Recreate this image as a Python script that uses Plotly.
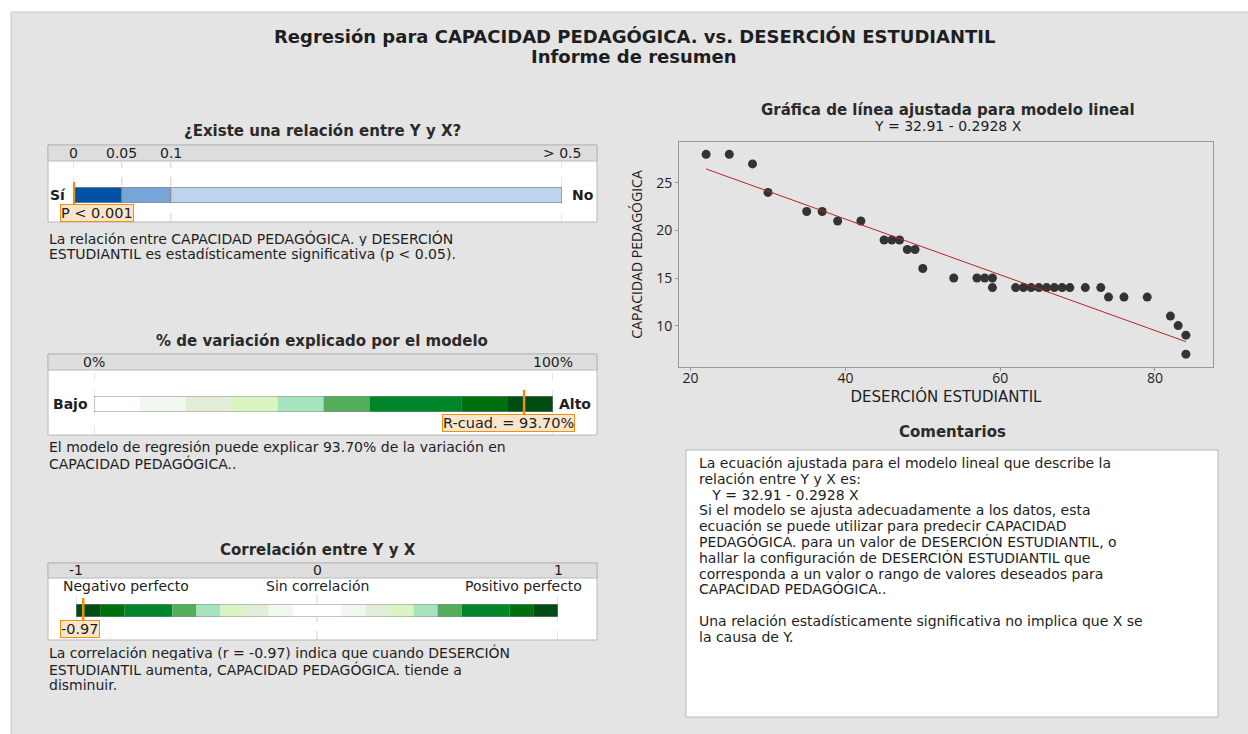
import plotly.graph_objects as go

# ---------------- data ----------------
desercion = [22, 25, 28, 30, 35, 37, 39, 42, 45, 46, 47, 48, 49, 50, 54, 57, 58, 59, 59,
             62, 63, 64, 65, 66, 67, 68, 69, 71, 73, 74, 76, 79, 82, 83, 84, 84]
capacidad = [28, 28, 27, 24, 22, 22, 21, 21, 19, 19, 19, 18, 18, 16, 15, 15, 15, 15, 14,
             14, 14, 14, 14, 14, 14, 14, 14, 14, 14, 13, 13, 13, 11, 10, 9, 7]
intercept = 32.91
slope = -0.2928

# p-value gauge (display units: 0, 0.05, 0.1, >0.5)
p_tick_labels = ["0", "0.05", "0.1", "> 0.5"]
p_tick_pos = [0, 1, 2, 10]
p_seg_start = [0, 1, 2]
p_seg_width = [1, 1, 8]
p_seg_colors = ["#0052a5", "#78a5d9", "#bed3ec"]
p_value_disp = 0.02  # p < 0.001
p_label = "P < 0.001"

# R-squared gauge (%)
r2_seg_start = [0, 10, 20, 30, 40, 50, 60, 80, 90]
r2_seg_width = [10, 10, 10, 10, 10, 10, 20, 10, 10]
r2_seg_colors = ["#ffffff", "#f0f7ee", "#e2eed9", "#daf5c2", "#a7e3bc", "#53ad5d",
                 "#00852a", "#006f0e", "#004c14"]
r2_value = 93.70
r2_tick_labels = ["0%", "100%"]
r2_tick_pos = [0, 100]

# correlation gauge
r_seg_start = [-1, -0.9, -0.8, -0.6, -0.5, -0.4, -0.3, -0.2, -0.1,
               0.1, 0.2, 0.3, 0.4, 0.5, 0.6, 0.8, 0.9]
r_seg_width = [0.1, 0.1, 0.2, 0.1, 0.1, 0.1, 0.1, 0.1, 0.2,
               0.1, 0.1, 0.1, 0.1, 0.1, 0.2, 0.1, 0.1]
r_seg_colors = ["#004c14", "#006f0e", "#00852a", "#53ad5d", "#a7e3bc", "#daf5c2",
                "#e2eed9", "#f0f7ee", "#ffffff",
                "#f0f7ee", "#e2eed9", "#daf5c2", "#a7e3bc", "#53ad5d", "#00852a",
                "#006f0e", "#004c14"]
r_value = -0.97
r_tick_labels = ["-1", "0", "1"]
r_tick_pos = [-1, 0, 1]
r_desc_labels = ["Negativo perfecto", "Sin correlación", "Positivo perfecto"]

# ---------------- layout helpers ----------------
W, H = 1248, 734
FONT = "DejaVu Sans"
TXT = "#1e1e1e"
ORANGE = "#f0900f"
BODY = 14


def X(x):
    return x / W


def Y(y):
    return 1 - y / H


fig = go.Figure()

# scatter + fitted line
fig.add_trace(go.Scatter(x=desercion, y=capacidad, mode="markers",
                         marker=dict(color="#333333", size=9), xaxis="x", yaxis="y",
                         showlegend=False, hoverinfo="skip"))
xl = [min(desercion), max(desercion)]
fig.add_trace(go.Scatter(x=xl, y=[intercept + slope * v for v in xl], mode="lines",
                         line=dict(color="#b0262a", width=1), xaxis="x", yaxis="y",
                         showlegend=False, hoverinfo="skip"))

# gauges
fig.add_trace(go.Bar(orientation="h", y=[0] * len(p_seg_width), x=p_seg_width, base=p_seg_start,
                     width=1, marker=dict(color=p_seg_colors, line=dict(color="#8a8a8a", width=1)),
                     xaxis="x2", yaxis="y2", showlegend=False, hoverinfo="skip"))
fig.add_trace(go.Bar(orientation="h", y=[0] * len(r2_seg_width), x=r2_seg_width, base=r2_seg_start,
                     width=1, marker=dict(color=r2_seg_colors, line=dict(width=0)),
                     xaxis="x3", yaxis="y3", showlegend=False, hoverinfo="skip"))
fig.add_trace(go.Bar(orientation="h", y=[0] * len(r_seg_width), x=r_seg_width, base=r_seg_start,
                     width=1, marker=dict(color=r_seg_colors, line=dict(width=0)),
                     xaxis="x4", yaxis="y4", showlegend=False, hoverinfo="skip"))

hidden = dict(visible=False, fixedrange=True)
fig.update_layout(
    width=W, height=H, autosize=False,
    margin=dict(l=0, r=0, t=0, b=0),
    paper_bgcolor="white", plot_bgcolor="white",
    barmode="overlay",
    font=dict(family=FONT, color=TXT, size=13),
    xaxis=dict(domain=[X(679), X(1213)], range=[18.5, 87.5], tickvals=[20, 40, 60, 80],
               showgrid=False, zeroline=False, showline=True, linecolor="#9a9a9a", mirror=True,
               ticks="outside", ticklen=3, tickcolor="#9a9a9a", ticklabelstandoff=-5,
               tickfont=dict(family="Open Sans", size=14, color=TXT),
               title=dict(text="DESERCIÓN ESTUDIANTIL", font=dict(family=FONT, size=15, color=TXT), standoff=0)),
    yaxis=dict(domain=[Y(367), Y(142)], range=[5.65, 29.3], tickvals=[10, 15, 20, 25],
               showgrid=False, zeroline=False, showline=True, linecolor="#9a9a9a", mirror=True,
               ticks="outside", ticklen=3, tickcolor="#9a9a9a",
               tickfont=dict(family="Open Sans", size=14, color=TXT),
               title=dict(text="CAPACIDAD PEDAGÓGICA", font=dict(family="Open Sans", size=14, color=TXT), standoff=10)),
    xaxis2=dict(domain=[X(73), X(562)], range=[0, 10], anchor="y2", **hidden),
    yaxis2=dict(domain=[Y(203), Y(187)], range=[-0.5, 0.5], anchor="x2", **hidden),
    xaxis3=dict(domain=[X(94), X(553)], range=[0, 100], anchor="y3", **hidden),
    yaxis3=dict(domain=[Y(412), Y(396)], range=[-0.5, 0.5], anchor="x3", **hidden),
    xaxis4=dict(domain=[X(76), X(558)], range=[-1, 1], anchor="y4", **hidden),
    yaxis4=dict(domain=[Y(617), Y(604)], range=[-0.5, 0.5], anchor="x4", **hidden),
)

shapes = []
# page background
shapes.append(dict(type="rect", xref="paper", yref="paper", x0=X(11), x1=X(1250), y0=Y(736), y1=Y(12),
                   fillcolor="#e4e4e4", line=dict(color="#c6c6c6", width=1), layer="below"))


def panel(top, band_bottom, bottom):
    shapes.append(dict(type="rect", xref="paper", yref="paper", x0=X(48), x1=X(597), y0=Y(bottom), y1=Y(top),
                       fillcolor="white", line=dict(color="#b8b8b8", width=1), layer="below"))
    shapes.append(dict(type="rect", xref="paper", yref="paper", x0=X(48), x1=X(597), y0=Y(band_bottom), y1=Y(top),
                       fillcolor="#dddddd", line=dict(color="#b8b8b8", width=1), layer="below"))


panel(145, 161, 222)
panel(354, 370, 435)
panel(563, 578, 640)

# comments box
shapes.append(dict(type="rect", xref="paper", yref="paper", x0=X(686), x1=X(1218), y0=Y(717), y1=Y(450),
                   fillcolor="white", line=dict(color="#b8b8b8", width=1), layer="below"))

# dashed guide lines
for v in p_tick_pos:
    shapes.append(dict(type="line", xref="x2", yref="paper", x0=v, x1=v, y0=Y(222), y1=Y(162),
                       line=dict(color="#cfcfcf", width=1, dash="dash"), layer="below"))
for v in r2_tick_pos:
    shapes.append(dict(type="line", xref="x3", yref="paper", x0=v, x1=v, y0=Y(435), y1=Y(371),
                       line=dict(color="#cfcfcf", width=1, dash="dash"), layer="below"))
for v in r_tick_pos:
    shapes.append(dict(type="line", xref="x4", yref="paper", x0=v, x1=v, y0=Y(640), y1=Y(595),
                       line=dict(color="#cfcfcf", width=1, dash="dash"), layer="below"))

# bar outlines
shapes.append(dict(type="rect", xref="x2", yref="y2", x0=0, x1=10, y0=-0.5, y1=0.5,
                   line=dict(color="#8a8a8a", width=1)))
shapes.append(dict(type="rect", xref="x3", yref="y3", x0=0, x1=100, y0=-0.5, y1=0.5,
                   line=dict(color="#8a8a8a", width=1)))
shapes.append(dict(type="rect", xref="x4", yref="y4", x0=-1, x1=1, y0=-0.5, y1=0.5,
                   line=dict(color="#8a8a8a", width=1)))

# value markers
shapes.append(dict(type="line", xref="x2", yref="paper", x0=p_value_disp, x1=p_value_disp, y0=Y(207), y1=Y(182),
                   line=dict(color=ORANGE, width=2.5)))
shapes.append(dict(type="line", xref="x3", yref="paper", x0=r2_value, x1=r2_value, y0=Y(416), y1=Y(390),
                   line=dict(color=ORANGE, width=2.5)))
shapes.append(dict(type="line", xref="x4", yref="paper", x0=r_value, x1=r_value, y0=Y(622), y1=Y(598),
                   line=dict(color=ORANGE, width=2.5)))

fig.update_layout(shapes=shapes)

ann = []


def text(x, y, s, size=BODY, anchor="left", bold=False, weight=None, color=TXT, family=FONT, **kw):
    d = dict(xref="paper", yref="paper", x=X(x), y=Y(y), text=s, showarrow=False,
             xanchor=anchor, yanchor="middle",
             font=dict(family=family, size=size, color=color,
                       weight=(weight if weight else (700 if bold else 400))))
    d.update(kw)
    ann.append(d)


# titles
text(634, 36, "Regresión para CAPACIDAD PEDAGÓGICA. vs. DESERCIÓN ESTUDIANTIL", size=18, anchor="center", bold=True)
text(634, 56, "Informe de resumen", size=18, anchor="center", bold=True)

SEC = "#2a2a2a"
text(322, 131, "¿Existe una relación entre Y y X?", size=15, anchor="center", bold=True, color=SEC)
text(322, 341, "% de variación explicado por el modelo", size=15, anchor="center", bold=True, color=SEC)
text(318, 550, "Correlación entre Y y X", size=15, anchor="center", bold=True, color=SEC)
text(948, 110, "Gráfica de línea ajustada para modelo lineal", size=15, anchor="center", bold=True, color=SEC)
text(948, 126, "Y = 32.91 - 0.2928 X", size=14, anchor="center")
text(952, 432, "Comentarios", size=15, anchor="center", bold=True, color=SEC)

# gauge tick labels (positioned through gauge axes)
TICKF = dict(family=FONT, size=14, color=TXT)
for v, lab in zip(p_tick_pos, p_tick_labels):
    ann.append(dict(xref="x2", yref="paper", x=v, y=Y(153), text=lab, showarrow=False,
                    xanchor="center", yanchor="middle", font=TICKF, height=16))
for v, lab in zip(r2_tick_pos, r2_tick_labels):
    ann.append(dict(xref="x3", yref="paper", x=v, y=Y(362), text=lab, showarrow=False,
                    xanchor="center", yanchor="middle", font=TICKF, height=16))
for v, lab in zip(r_tick_pos, r_tick_labels):
    ann.append(dict(xref="x4", yref="paper", x=v, y=Y(570), text=lab, showarrow=False,
                    xanchor="center", yanchor="middle", font=TICKF, height=14))
DESCF = dict(family=FONT, size=14, color=TXT)
desc_anchor = ["left", "center", "right"]
desc_shift = [-15, 0, 26]
for v, lab, a, sh in zip(r_tick_pos, r_desc_labels, desc_anchor, desc_shift):
    ann.append(dict(xref="x4", yref="paper", x=v, y=Y(586), text=lab, showarrow=False,
                    xanchor=a, xshift=sh, yanchor="middle", font=DESCF, height=16))

# side labels
text(68, 195, "Sí", anchor="right", bold=True)
text(570, 195, "No", anchor="left", bold=True)
text(90, 404, "Bajo", anchor="right", bold=True)
text(557, 404, "Alto", anchor="left", bold=True)

# value labels
LBL = dict(bgcolor="#f9e5cc", bordercolor=ORANGE, borderwidth=1, borderpad=0, showarrow=False,
           xref="paper", yref="paper", yanchor="middle", font=dict(family=FONT, size=14.5, color=TXT))
ann.append(dict(x=X(60), y=Y(213), text=p_label, xanchor="left", **LBL))
ann.append(dict(x=X(575), y=Y(423), text=f"R-cuad. = {r2_value:.2f}%", xanchor="right", **LBL))
ann.append(dict(x=X(60), y=Y(629), text=f"{r_value:.2f}", xanchor="left", **LBL))

# body texts
body1 = ["La relación entre CAPACIDAD PEDAGÓGICA. y DESERCIÓN",
         "ESTUDIANTIL es estadísticamente significativa (p < 0.05)."]
body2 = ["El modelo de regresión puede explicar 93.70% de la variación en",
         "CAPACIDAD PEDAGÓGICA.."]
body3 = ["La correlación negativa (r = -0.97) indica que cuando DESERCIÓN",
         "ESTUDIANTIL aumenta, CAPACIDAD PEDAGÓGICA. tiende a",
         "disminuir."]
for i, s in enumerate(body1):
    text(47, 238 + 16 * i, s, height=16)
for i, s in enumerate(body2):
    text(47, 447 + 16 * i, s, height=16)
for i, s in enumerate(body3):
    text(47, 652 + 16.5 * i, s, height=16)

comments = ["La ecuación ajustada para el modelo lineal que describe la",
            "relación entre Y y X es:",
            "   Y = 32.91 - 0.2928 X",
            "Si el modelo se ajusta adecuadamente a los datos, esta",
            "ecuación se puede utilizar para predecir CAPACIDAD",
            "PEDAGÓGICA. para un valor de DESERCIÓN ESTUDIANTIL, o",
            "hallar la configuración de DESERCIÓN ESTUDIANTIL que",
            "corresponda a un valor o rango de valores deseados para",
            "CAPACIDAD PEDAGÓGICA..",
            "",
            "Una relación estadísticamente significativa no implica que X se",
            "la causa de Y."]
for i, s in enumerate(comments):
    if s:
        text(697, 463 + 15.8 * i, s, height=15.8)

fig.update_layout(annotations=ann)
fig.write_html("out.html", config={"displayModeBar": False},
               post_script="document.body.style.margin='0px';document.body.style.overflow='hidden';")
